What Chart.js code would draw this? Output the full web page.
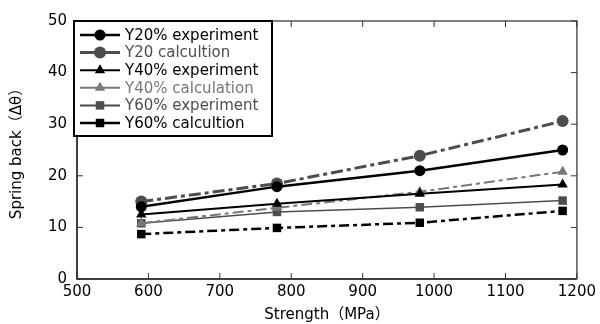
<!DOCTYPE html>
<html>
<head>
<meta charset="utf-8">
<script src="https://cdn.jsdelivr.net/npm/chart.js@4.4.1/dist/chart.umd.min.js"></script>
<style>
  html, body { margin: 0; padding: 0; background: #fff; }
  #wrap { width: 600px; height: 324px; }
</style>
</head>
<body>
<div id="wrap"><canvas id="chart" width="600" height="324"></canvas></div>
<script>
// data -----------------------------------------
const strength = [590, 780, 980, 1180];
const y20Experiment = [14.0, 17.9, 21.0, 25.0];
const y20Calc = [15.0, 18.5, 23.9, 30.6];
const y40Experiment = [12.5, 14.6, 16.5, 18.3];
const y40Calc = [10.8, 13.8, 16.9, 20.8];
const y60Experiment = [10.8, 13.0, 13.9, 15.2];
const y60Calc = [8.7, 9.9, 10.9, 13.2];

const xTicks = [500, 600, 700, 800, 900, 1000, 1100, 1200];
const yTicks = [0, 10, 20, 30, 40, 50];

const FONT = "'DejaVu Sans', 'Noto Sans CJK JP', sans-serif";

function pts(values) {
    return strength.map((x, i) => ({ x: x, y: values[i] }));
}

function series(label, values, color, style, width, dash, radius) {
    return {
        label: label,
        data: pts(values),
        borderColor: color,
        backgroundColor: color,
        borderWidth: width,
        borderDash: dash,
        pointStyle: style,
        pointRadius: radius,
        pointBorderWidth: 0,
        pointBackgroundColor: color,
        tension: 0
    };
}

// legend drawn inside the plot, top left
const innerLegend = {
    id: 'innerLegend',
    afterDraw(chart) {
        const ctx = chart.ctx;
        const area = chart.chartArea;
        const x0 = area.left - 3, y0 = area.top;
        const w = 198, h = 115;
        ctx.save();
        ctx.fillStyle = '#fff';
        ctx.fillRect(x0, y0, w, h);
        ctx.strokeStyle = '#000';
        ctx.lineWidth = 2;
        ctx.strokeRect(x0, y0, w, h);
        chart.data.datasets.forEach(function(ds, i) {
            const cy = y0 + 14 + i * 17.6;
            ctx.setLineDash([]);
            ctx.strokeStyle = ds.borderColor;
            ctx.lineWidth = Math.max(ds.borderWidth, 2);
            ctx.beginPath();
            ctx.moveTo(x0 + 6, cy);
            ctx.lineTo(x0 + 46, cy);
            ctx.stroke();
            ctx.fillStyle = ds.borderColor;
            Chart.helpers.drawPoint(ctx, {
                pointStyle: ds.pointStyle, radius: ds.pointRadius, borderWidth: 0, rotation: 0
            }, x0 + 26, cy);
            ctx.fillStyle = ds.borderColor;
            ctx.font = '15px ' + FONT;
            ctx.textBaseline = 'middle';
            ctx.textAlign = 'left';
            ctx.fillText(ds.label, x0 + 51, cy + 1);
        });
        ctx.restore();
    }
};

// frame with inward tick marks on all four sides
const frameTicks = {
    id: 'frameTicks',
    beforeDatasetsDraw(chart) {
        const ctx = chart.ctx;
        const a = chart.chartArea;
        const xs = chart.scales.x, ys = chart.scales.y;
        ctx.save();
        ctx.lineWidth = 1.5;
        ctx.strokeStyle = '#000';
        ctx.beginPath();
        ctx.moveTo(a.left, a.top);
        ctx.lineTo(a.left, a.bottom);
        ctx.lineTo(a.right, a.bottom);
        ctx.stroke();
        ctx.strokeStyle = '#555';
        ctx.beginPath();
        ctx.moveTo(a.left, a.top);
        ctx.lineTo(a.right, a.top);
        ctx.lineTo(a.right, a.bottom);
        ctx.stroke();
        ctx.lineWidth = 1;
        ctx.strokeStyle = '#333';
        ctx.beginPath();
        xTicks.forEach(function(v) {
            const px = xs.getPixelForValue(v);
            ctx.moveTo(px, a.bottom); ctx.lineTo(px, a.bottom - 6);
            ctx.moveTo(px, a.top); ctx.lineTo(px, a.top + 6);
        });
        yTicks.forEach(function(v) {
            const py = ys.getPixelForValue(v);
            ctx.moveTo(a.left, py); ctx.lineTo(a.left + 6, py);
            ctx.moveTo(a.right, py); ctx.lineTo(a.right - 6, py);
        });
        ctx.stroke();
        ctx.restore();
    }
};

new Chart(document.getElementById('chart').getContext('2d'), {
    type: 'line',
    data: {
        datasets: [
            series('Y20% experiment', y20Experiment, '#000000', 'circle', 2.5, [], 5.5),
            series('Y20 calcultion', y20Calc, '#4d4d4d', 'circle', 3, [12, 4, 4, 4], 6),
            series('Y40% experiment', y40Experiment, '#000000', 'triangle', 2, [], 6),
            series('Y40% calculation', y40Calc, '#777777', 'triangle', 2, [11, 4, 4, 4], 6),
            series('Y60% experiment', y60Experiment, '#4d4d4d', 'rect', 1.5, [], 6),
            series('Y60% calcultion', y60Calc, '#000000', 'rect', 2.5, [10, 4, 4, 4], 6)
        ]
    },
    options: {
        responsive: false,
        animation: false,
        layout: { padding: { top: 21, right: 22, left: 8, bottom: 0 } },
        plugins: {
            legend: { display: false },
            tooltip: { enabled: false }
        },
        scales: {
            x: {
                type: 'linear',
                min: 500,
                max: 1200,
                afterBuildTicks: function(axis) { axis.ticks = xTicks.map(v => ({ value: v })); },
                afterFit: function(axis) { axis.height = 45; },
                grid: { display: false, drawTicks: false },
                border: { display: false },
                ticks: {
                    color: '#000', font: { size: 15, family: FONT }, padding: 4, maxRotation: 0,
                    callback: function(v) { return String(v); }
                },
                title: {
                    display: true, text: 'Strength（MPa）', color: '#000',
                    font: { size: 15, family: FONT }, padding: { top: 0, bottom: 0 }
                }
            },
            y: {
                min: 0,
                max: 50,
                afterBuildTicks: function(axis) { axis.ticks = yTicks.map(v => ({ value: v })); },
                afterFit: function(axis) { axis.width = 69; },
                grid: { display: false, drawTicks: false },
                border: { display: false },
                ticks: {
                    color: '#000', font: { size: 15, family: FONT }, padding: 10,
                    callback: function(v) { return String(v); }
                },
                title: {
                    display: true, text: 'Spring back（Δθ）', color: '#000',
                    font: { size: 15, family: FONT }, padding: { top: 0, bottom: 4 }
                }
            }
        }
    },
    plugins: [frameTicks, innerLegend]
});
</script>
</body>
</html>
